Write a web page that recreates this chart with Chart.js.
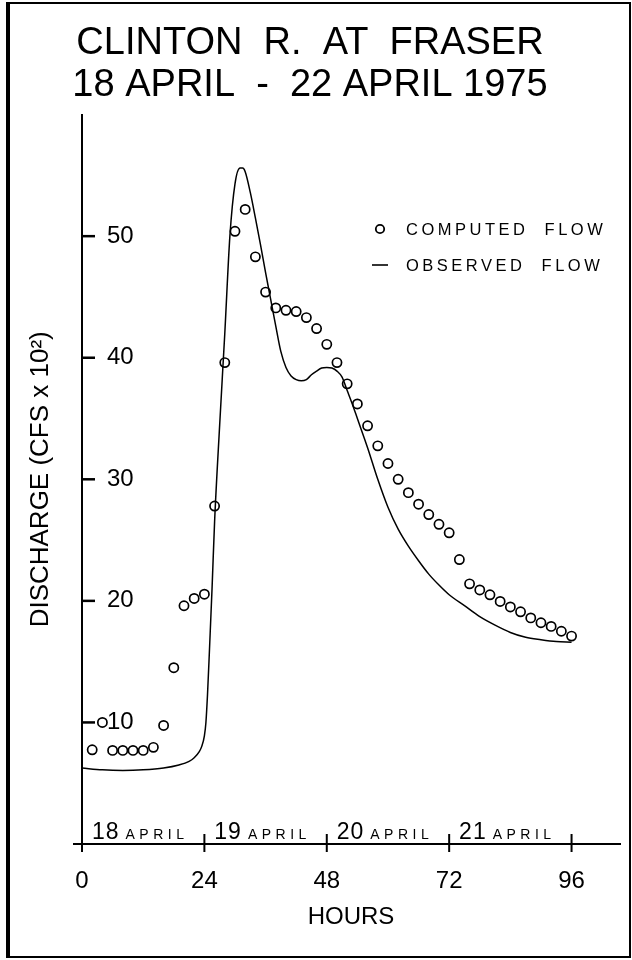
<!DOCTYPE html>
<html>
<head>
<meta charset="utf-8">
<script src="https://cdn.jsdelivr.net/npm/chart.js@4.4.0/dist/chart.umd.min.js"></script>
<style>
  html, body { margin: 0; padding: 0; background: #fff; }
  #frame { position: absolute; left: 6px; top: 2px; width: 619px; height: 952px; border: 2px solid #000; border-left-width: 4px; }
  #wrap { position: absolute; left: 0; top: 0; width: 632px; height: 960px; }
</style>
</head>
<body>
<div id="frame"></div>
<div id="wrap"><canvas id="chart" width="632" height="960"></canvas></div>
<script>
// computed flow, every 2 hours (cfs x 100)
const computedHours = [2, 4, 6, 8, 10, 12, 14, 16, 18, 20, 22, 24,
  26, 28, 30, 32, 34, 36, 38, 40, 42, 44, 46, 48,
  50, 52, 54, 56, 58, 60, 62, 64, 66, 68, 70, 72,
  74, 76, 78, 80, 82, 84, 86, 88, 90, 92, 94, 96];
const computedFlow = [7.75, 10.0, 7.7, 7.7, 7.7, 7.7, 7.95, 9.75, 14.5, 19.6, 20.2, 20.55,
  27.8, 39.6, 50.4, 52.2, 48.3, 45.4, 44.1, 43.9, 43.8, 43.3, 42.4, 41.1,
  39.6, 37.85, 36.2, 34.4, 32.75, 31.3, 30.0, 28.9, 27.95, 27.1, 26.3, 25.6,
  23.4, 21.4, 20.9, 20.5, 19.95, 19.5, 19.1, 18.6, 18.2, 17.9, 17.5, 17.1];

// observed hydrograph
const observedHours = [0, 4, 8, 12, 16, 19, 21, 22, 23, 23.5, 24, 24.3, 24.6, 25, 25.5, 26, 27, 28, 29, 30, 31, 31.5, 32,
  33, 34, 35, 36, 37, 38, 39, 40, 41, 42, 43, 44, 45, 46, 47, 48, 49, 50, 51, 52, 53, 54,
  56, 58, 60, 62, 64, 66, 68, 70, 72, 75, 78, 81, 84, 87, 90, 93, 96];
const observedFlow = [6.25, 6.1, 6.05, 6.1, 6.25, 6.5, 6.8, 7.1, 7.6, 8.05, 8.9, 10.0, 12.2, 16.0, 21.0, 26.5, 34.5, 42.0, 50.0, 54.3, 55.6, 55.6, 55.3,
  53.6, 51.5, 49.3, 47.0, 44.8, 42.6, 40.5, 39.2, 38.5, 38.2, 38.1, 38.2, 38.6, 38.9, 39.15, 39.2, 39.15, 38.9, 38.4, 37.3, 36.2, 35.0,
  32.6, 30.0, 27.7, 25.9, 24.5, 23.3, 22.2, 21.3, 20.5, 19.6, 18.7, 18.0, 17.4, 17.0, 16.8, 16.65, 16.6];

const hourTicks = [0, 24, 48, 72, 96];
const flowTicks = [10, 20, 30, 40, 50];
const dayLabels = ['18', '19', '20', '21'];
const monthLabel = 'APRIL';

const FONT = '"Liberation Sans", Arial, Helvetica, sans-serif';

const extras = {
  id: 'extras',
  afterDraw(chart) {
    const {ctx, chartArea, scales: {x, y}} = chart;
    const ay = chartArea.bottom;
    ctx.save();
    ctx.strokeStyle = '#000';
    ctx.fillStyle = '#000';
    ctx.lineWidth = 2.5;

    // y ticks point into the plot
    flowTicks.forEach(v => {
      const py = y.getPixelForValue(v);
      ctx.beginPath();
      ctx.moveTo(chartArea.left, py);
      ctx.lineTo(chartArea.left + 13, py);
      ctx.stroke();
    });

    // x ticks cross the axis
    ctx.lineWidth = 2;
    hourTicks.forEach(v => {
      const px = x.getPixelForValue(v);
      ctx.beginPath();
      ctx.moveTo(px, ay - 10);
      ctx.lineTo(px, ay + 8);
      ctx.stroke();
    });
    ctx.beginPath();
    ctx.moveTo(chartArea.left - 9, ay);
    ctx.lineTo(chartArea.left, ay);
    ctx.stroke();

    // day names along the axis
    ctx.textBaseline = 'alphabetic';
    ctx.textAlign = 'left';
    dayLabels.forEach((d, i) => {
      const mid = (x.getPixelForValue(hourTicks[i]) + x.getPixelForValue(hourTicks[i + 1])) / 2 - 3;
      ctx.font = '23px ' + FONT;
      ctx.letterSpacing = '1px';
      const wd = ctx.measureText(d).width;
      ctx.font = '14px ' + FONT;
      ctx.letterSpacing = '4.5px';
      const wm = ctx.measureText(monthLabel).width;
      const start = mid - (wd + 6 + wm) / 2;
      ctx.font = '23px ' + FONT;
      ctx.letterSpacing = '1px';
      ctx.fillText(d, start, ay - 5);
      ctx.font = '14px ' + FONT;
      ctx.letterSpacing = '4.5px';
      ctx.fillText(monthLabel, start + wd + 6, ay - 5);
    });

    // legend
    ctx.font = '16.5px ' + FONT;
    ctx.letterSpacing = '3.5px';
    ctx.textBaseline = 'middle';
    ctx.lineWidth = 1.8;
    ctx.beginPath();
    ctx.arc(380, 229, 4.2, 0, Math.PI * 2);
    ctx.stroke();
    ctx.fillText('COMPUTED  FLOW', 406, 230);
    ctx.lineWidth = 1.6;
    ctx.beginPath();
    ctx.moveTo(372, 265);
    ctx.lineTo(388, 265);
    ctx.stroke();
    ctx.fillText('OBSERVED  FLOW', 406, 266);
    ctx.restore();
  }
};

new Chart(document.getElementById('chart'), {
  type: 'scatter',
  data: {
    datasets: [
      {
        label: 'COMPUTED FLOW',
        data: computedHours.map((h, i) => ({x: h, y: computedFlow[i]})),
        pointRadius: 4.6,
        pointBorderWidth: 1.7,
        pointBorderColor: '#000',
        pointBackgroundColor: 'rgba(0,0,0,0)',
        showLine: false
      },
      {
        label: 'OBSERVED FLOW',
        data: observedHours.map((h, i) => ({x: h, y: observedFlow[i]})),
        showLine: true,
        pointRadius: 0,
        borderColor: '#000',
        borderWidth: 1.5,
        cubicInterpolationMode: 'monotone'
      }
    ]
  },
  options: {
    responsive: false,
    animation: false,
    layout: { padding: { left: 0, right: 12, top: 0, bottom: 0 } },
    plugins: {
      legend: { display: false },
      tooltip: { enabled: false },
      title: {
        display: true,
        text: ['CLINTON  R.  AT  FRASER', '18 APRIL  -  22 APRIL 1975'],
        color: '#000',
        font: { family: FONT, size: 38, weight: 'normal', lineHeight: 1.1 },
        padding: { top: 23, bottom: 8 }
      }
    },
    scales: {
      x: {
        type: 'linear',
        min: 0,
        max: 105.5,
        grid: { display: false },
        border: { display: true, color: '#000', width: 2 },
        afterBuildTicks: s => { s.ticks = hourTicks.map(v => ({value: v})); },
        afterFit: s => { s.height = 116; },
        ticks: { color: '#000', padding: 15, font: { family: FONT, size: 24 } },
        title: {
          display: true,
          text: 'HOURS',
          color: '#000',
          font: { family: FONT, size: 24 },
          padding: { top: 0, bottom: 28 }
        }
      },
      y: {
        min: 0,
        max: 60,
        grid: { display: false },
        border: { display: true, color: '#000', width: 2 },
        afterBuildTicks: s => { s.ticks = flowTicks.map(v => ({value: v})); },
        afterFit: s => { s.width = 82; },
        ticks: { color: '#000', mirror: true, padding: 25, font: { family: FONT, size: 24 } },
        title: {
          display: true,
          text: 'DISCHARGE (CFS x 10²)',
          color: '#000',
          font: { family: FONT, size: 26 },
          padding: { top: 25, bottom: 0 }
        }
      }
    }
  },
  plugins: [extras]
});
</script>
</body>
</html>
